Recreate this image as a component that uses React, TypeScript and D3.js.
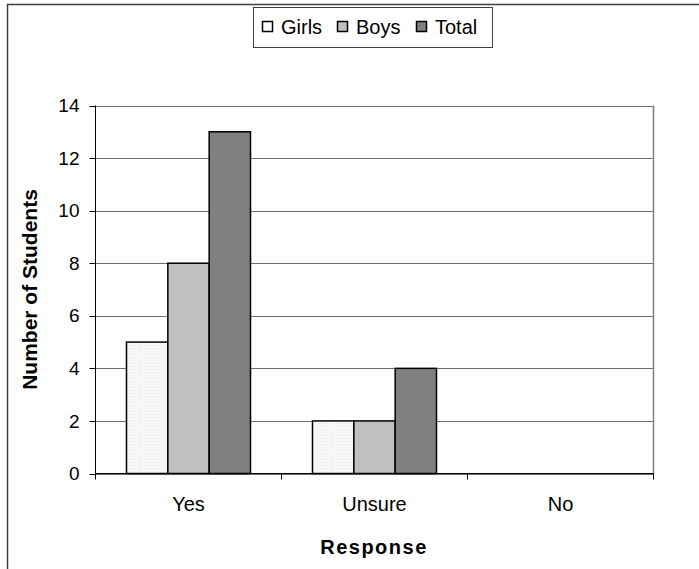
import React from "react";
import * as d3 from "d3";

const categories = ["Yes", "Unsure", "No"];
const seriesNames = ["Girls", "Boys", "Total"];
const girls = [5, 2, 0];
const boys = [8, 2, 0];
const total = [13, 4, 0];
const yTicks = [0, 2, 4, 6, 8, 10, 12, 14];

const fills = ["url(#girlsPat)", "#c0c0c0", "#808080"];
const series = [girls, boys, total];

export default function App() {
  const W = 699, H = 569;
  const left = 95.5, right = 653.5, top = 105.5, bottom = 473.5;
  const x0 = d3.scaleBand<string>().domain(categories).range([left, right]).paddingInner(0).paddingOuter(0);
  const y = d3.scaleLinear().domain([0, 14]).range([bottom, top]);
  const bw = x0.bandwidth() / 4.5;
  const font = "Arial, 'Liberation Sans', sans-serif";
  const legendItems = [
    { x: 262, tx: 281 },
    { x: 337, tx: 356 },
    { x: 416, tx: 435 },
  ];
  return (
    <svg width={W} height={H} style={{ position: "absolute", left: 0, top: 0 }} fontFamily={font}>
      <defs>
        <pattern id="girlsPat" width="3" height="3" patternUnits="userSpaceOnUse">
          <rect width="3" height="3" fill="#fbfbfb" />
          <rect x="0" y="0" width="1" height="1" fill="#e2e2e2" />
          <rect x="1.5" y="1.5" width="1" height="1" fill="#e8e8e8" />
        </pattern>
      </defs>
      <rect x={0} y={0} width={W} height={H} fill="#fff" />
      <rect x={7.5} y={4.5} width={W + 10} height={H + 10} fill="none" stroke="#404040" strokeWidth={1.5} />
      {yTicks.map((t) => (
        <line key={"g" + t} x1={left} x2={right} y1={Math.round(y(t)) + 0.5} y2={Math.round(y(t)) + 0.5} stroke="#6e6e6e" strokeWidth={1} />
      ))}
      <line x1={right} x2={right} y1={top} y2={bottom} stroke="#808080" strokeWidth={1.5} />
      {categories.map((c, ci) =>
        series.map((s, si) => {
          const v = s[ci];
          if (v <= 0) return null;
          const xb = (x0(c) as number) + bw * 0.75 + si * bw;
          return (
            <rect key={c + si} x={xb} y={y(v)} width={bw} height={y(0) - y(v)} fill={fills[si]} stroke="#000" strokeWidth={1.5} />
          );
        })
      )}
      <line x1={left} x2={left} y1={top} y2={bottom} stroke="#000" strokeWidth={1} />
      <line x1={left} x2={right} y1={bottom} y2={bottom} stroke="#000" strokeWidth={1} />
      {yTicks.map((t) => (
        <g key={"t" + t}>
          <line x1={left - 6} x2={left} y1={Math.round(y(t)) + 0.5} y2={Math.round(y(t)) + 0.5} stroke="#000" />
          <text x={79.5} y={y(t)} dy="0.35em" textAnchor="end" fontSize={19} fill="#000">{t}</text>
        </g>
      ))}
      {categories.map((c, i) => (
        <line key={"xt" + i} x1={(x0(c) as number)} x2={(x0(c) as number)} y1={bottom} y2={bottom + 6} stroke="#000" />
      ))}
      <line x1={right} x2={right} y1={bottom} y2={bottom + 6} stroke="#000" />
      {categories.map((c) => (
        <text key={"xl" + c} x={(x0(c) as number) + x0.bandwidth() / 2} y={504} dy="0.35em" textAnchor="middle" fontSize={20} fill="#000">{c}</text>
      ))}
      <text x={374} y={547} dy="0.35em" textAnchor="middle" fontSize={20} fontWeight="bold" fill="#000" letterSpacing={1.5}>Response</text>
      <text transform={`translate(30,${(top + bottom) / 2}) rotate(-90)`} dy="0.35em" textAnchor="middle" fontSize={21} fontWeight="bold" fill="#000">Number of Students</text>
      <rect x={253.5} y={7.5} width={239} height={40} fill="#fff" stroke="#404040" strokeWidth={1} />
      {seriesNames.map((n, i) => (
        <g key={n}>
          <rect x={legendItems[i].x + 0.5} y={21.5} width={10} height={10} fill={i === 0 ? "#fff" : fills[i]} stroke="#000" strokeWidth={1.5} />
          <text x={legendItems[i].tx} y={26.5} dy="0.35em" fontSize={20} fill="#000">{n}</text>
        </g>
      ))}
    </svg>
  );
}
